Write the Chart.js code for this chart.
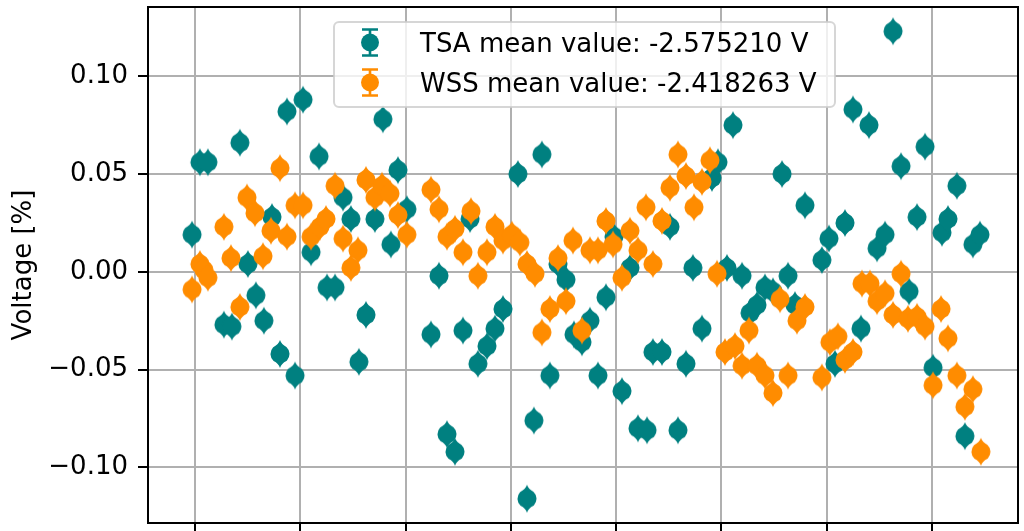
<!DOCTYPE html>
<html>
<head>
<meta charset="utf-8">
<title>TSA / WSS voltage deviation</title>
<script src="https://cdn.jsdelivr.net/npm/chart.js@4.4.1/dist/chart.umd.min.js"></script>
<style>
  html, body { margin: 0; padding: 0; background: #fff; }
  canvas { display: block; }
</style>
</head>
<body>
<canvas id="myChart" width="1024" height="531"></canvas>
<script>
// mean values shown in the legend (V)
var tsaMean = -2.575210;
var wssMean = -2.418263;

// TSA deviation from mean, in %
var tsaX = [-0.28, 0.47, 1.23, 2.75, 3.51, 4.27, 5.03, 5.79, 6.55, 7.31,
  8.07, 8.74, 9.50, 10.26, 11.02, 11.78, 12.54, 13.30, 14.06, 14.81,
  15.57, 16.24, 17.09, 17.85, 18.61, 19.28, 20.13, 22.41, 23.17, 23.93,
  24.69, 25.45, 26.12, 26.87, 27.73, 28.49, 29.25, 30.67, 31.53, 32.19,
  32.95, 33.71, 34.47, 35.23, 35.99, 36.75, 37.51, 38.27, 39.03, 39.79,
  40.55, 41.31, 42.07, 42.93, 43.49, 44.35, 45.11, 45.87, 46.63, 47.29,
  48.15, 49.10, 49.67, 50.52, 51.09, 51.95, 52.71, 53.37, 54.13, 54.89,
  55.75, 56.32, 56.98, 57.93, 59.54, 60.21, 60.78, 61.73, 62.49, 63.25,
  64.01, 64.77, 65.53, 66.29, 67.05, 67.81, 68.57, 69.33, 70.09, 70.94,
  71.51, 72.36, 73.12, 73.88, 74.55];
var tsaY = [0.019, 0.056, 0.056, -0.027, -0.028, 0.066, 0.004, -0.012, -0.025, 0.028,
  -0.042, 0.082, -0.053, 0.088, 0.010, 0.059, -0.008, -0.008, 0.038, 0.027,
  -0.046, -0.022, 0.027, 0.078, 0.014, 0.052, 0.032, -0.032, -0.002, -0.083,
  -0.092, -0.030, 0.027, -0.047, -0.038, -0.029, -0.019, 0.050, -0.116, -0.076,
  0.060, -0.053, 0.004, -0.004, -0.032, -0.036, -0.025, -0.053, -0.013, 0.018,
  -0.061, 0.002, -0.080, -0.081, -0.041, -0.041, 0.023, -0.081, -0.047, 0.002,
  -0.029, 0.048, 0.056, 0.002, 0.075, -0.002, -0.021, -0.017, -0.008, -0.010,
  0.050, -0.002, -0.017, 0.034, 0.006, 0.017, -0.047, 0.025, 0.083, -0.029,
  0.075, 0.012, 0.019, 0.123, 0.054, -0.010, 0.028, 0.064, -0.049, 0.020,
  0.027, 0.044, -0.084, 0.014, 0.019];

// WSS deviation from mean, in %
var wssX = [-0.28, 0.47, 0.85, 1.23, 2.75, 3.42, 4.27, 4.94, 5.70, 6.46,
  7.22, 8.07, 8.74, 9.50, 10.26, 11.02, 11.87, 12.44, 13.30, 14.06,
  14.81, 15.48, 16.24, 17.09, 17.76, 18.52, 19.28, 20.13, 22.41, 23.17,
  23.93, 24.69, 25.45, 26.21, 26.87, 27.73, 28.49, 29.25, 30.10, 30.86,
  31.53, 32.29, 32.95, 33.71, 34.47, 35.23, 35.90, 36.75, 37.51, 38.27,
  39.03, 39.70, 40.55, 41.31, 42.07, 42.83, 43.49, 44.35, 45.11, 45.87,
  46.63, 47.39, 48.15, 48.91, 49.58, 50.33, 51.28, 51.95, 52.61, 53.37,
  54.13, 54.89, 55.56, 56.32, 57.17, 57.93, 59.54, 60.30, 61.06, 61.73,
  62.49, 63.34, 64.10, 64.77, 65.53, 66.29, 67.05, 67.71, 68.57, 69.33,
  70.09, 70.85, 71.51, 72.36, 73.12, 73.88, 74.64];
var wssY = [-0.009, 0.004, 0.001, -0.003, 0.023, 0.007, -0.018, 0.038, 0.030, 0.008,
  0.021, 0.053, 0.018, 0.034, 0.034, 0.018, 0.023, 0.027, 0.044, 0.017,
  0.002, 0.011, 0.047, 0.038, 0.044, 0.040, 0.029, 0.019, 0.042, 0.032,
  0.018, 0.022, 0.010, 0.031, -0.002, 0.010, 0.023, 0.016, 0.019, 0.015,
  0.004, -0.001, -0.031, -0.019, 0.007, -0.015, 0.016, -0.030, 0.011, 0.011,
  0.026, 0.014, -0.003, 0.021, 0.011, 0.033, 0.004, 0.026, 0.043, 0.060,
  0.049, 0.033, 0.046, 0.057, -0.001, -0.041, -0.038, -0.048, -0.030, -0.048,
  -0.053, -0.062, -0.014, -0.053, -0.025, -0.018, -0.054, -0.036, -0.033, -0.045,
  -0.041, -0.006, -0.006, -0.015, -0.011, -0.022, -0.001, -0.024, -0.023, -0.028,
  -0.058, -0.019, -0.034, -0.053, -0.069, -0.060, -0.092];

var xTicks = [0, 10, 20, 30, 40, 50, 60, 70];
var yTicks = [-0.10, -0.05, 0.00, 0.05, 0.10];

var TEAL = '#008080';
var ORANGE = '#ff8c00';
var FONT = 'DejaVu Sans';
var GRID = '#b0b0b0';

// legend frame placement inside the plot
var legendBox = { left: 334, top: 22, width: 501, height: 85, rowGap: 40 };

// circle marker with the error bar tips sticking out above and below
function makeMarker(color) {
  var c = document.createElement('canvas');
  c.width = 22;
  c.height = 32;
  var g = c.getContext('2d');
  var r = 9.5, a = Math.atan2(7, 6.4);
  g.translate(11, 16);
  g.fillStyle = color;
  g.beginPath();
  g.moveTo(0, -14);
  g.quadraticCurveTo(1.5, -9.5, r * Math.cos(a), -r * Math.sin(a));
  g.arc(0, 0, r, -a, a);
  g.quadraticCurveTo(1.5, 9.5, 0, 14);
  g.quadraticCurveTo(-1.5, 9.5, -r * Math.cos(a), r * Math.sin(a));
  g.arc(0, 0, r, Math.PI - a, Math.PI + a);
  g.quadraticCurveTo(-1.5, -9.5, 0, -14);
  g.closePath();
  g.fill();
  return c;
}

function points(xs, ys) {
  return xs.map(function (x, i) { return { x: x, y: ys[i] }; });
}

function minusSign(v) {
  return v.toFixed(2).replace('-', '\u2212');
}

// full black box round the plot area
var frame = {
  id: 'frame',
  afterDatasetsDraw: function (chart) {
    var a = chart.chartArea, ctx = chart.ctx;
    ctx.save();
    ctx.strokeStyle = '#000';
    ctx.lineWidth = 2;
    ctx.strokeRect(a.left, a.top, a.right - a.left, a.bottom - a.top);
    ctx.restore();
  }
};

// errorbar-style legend drawn inside the axes
var boxLegend = {
  id: 'boxLegend',
  afterDraw: function (chart) {
    var ctx = chart.ctx, b = legendBox, rad = 5;
    var x0 = b.left, y0 = b.top, x1 = b.left + b.width, y1 = b.top + b.height;
    ctx.save();
    ctx.beginPath();
    ctx.moveTo(x0 + rad, y0);
    ctx.arcTo(x1, y0, x1, y1, rad);
    ctx.arcTo(x1, y1, x0, y1, rad);
    ctx.arcTo(x0, y1, x0, y0, rad);
    ctx.arcTo(x0, y0, x1, y0, rad);
    ctx.closePath();
    ctx.fillStyle = 'rgba(255,255,255,0.8)';
    ctx.fill();
    ctx.strokeStyle = 'rgba(204,204,204,0.8)';
    ctx.lineWidth = 2;
    ctx.stroke();

    chart.data.datasets.forEach(function (ds, i) {
      var cy = b.top + 20.5 + i * b.rowGap, cx = b.left + 36;
      ctx.strokeStyle = ds.backgroundColor;
      ctx.fillStyle = ds.backgroundColor;
      ctx.lineWidth = 2.6;
      ctx.beginPath();
      ctx.moveTo(cx, cy - 13); ctx.lineTo(cx, cy + 13);
      ctx.moveTo(cx - 8, cy - 13); ctx.lineTo(cx + 8, cy - 13);
      ctx.moveTo(cx - 8, cy + 13); ctx.lineTo(cx + 8, cy + 13);
      ctx.stroke();
      ctx.beginPath();
      ctx.arc(cx, cy, 9, 0, Math.PI * 2);
      ctx.fill();

      ctx.fillStyle = '#000';
      ctx.font = '26px "' + FONT + '"';
      ctx.textAlign = 'left';
      ctx.textBaseline = 'alphabetic';
      ctx.fillText(ds.label, b.left + 86, cy + 9.7);
    });
    ctx.restore();
  }
};

Chart.defaults.font.family = FONT;
Chart.defaults.color = '#000';

var ctx = document.getElementById('myChart');

var myChart = new Chart(ctx, {
  type: 'scatter',
  data: {
    datasets: [
      {
        label: 'TSA mean value: ' + tsaMean.toFixed(6) + ' V',
        data: points(tsaX, tsaY),
        backgroundColor: TEAL,
        pointStyle: makeMarker(TEAL),
        pointRadius: 10,
        order: 2
      },
      {
        label: 'WSS mean value: ' + wssMean.toFixed(6) + ' V',
        data: points(wssX, wssY),
        backgroundColor: ORANGE,
        pointStyle: makeMarker(ORANGE),
        pointRadius: 10,
        order: 1
      }
    ]
  },
  options: {
    responsive: false,
    animation: false,
    devicePixelRatio: 1,
    events: [],
    layout: { autoPadding: false, padding: { left: 0, right: 6, top: 7, bottom: 0 } },
    plugins: {
      legend: { display: false },
      tooltip: { enabled: false }
    },
    scales: {
      x: {
        type: 'linear',
        min: -4.46,
        max: 78.16,
        afterBuildTicks: function (scale) {
          scale.ticks = xTicks.map(function (v) { return { value: v }; });
        },
        afterFit: function (scale) { scale.height = 8; },
        ticks: { display: false },
        grid: { color: GRID, lineWidth: 2, tickColor: '#000', tickLength: 8, tickWidth: 2 },
        border: { display: true, color: '#000', width: 2 }
      },
      y: {
        type: 'linear',
        min: -0.1284,
        max: 0.1354,
        afterBuildTicks: function (scale) {
          scale.ticks = yTicks.map(function (v) { return { value: v }; });
        },
        // fixed axis width, and no extra room reserved for end labels
        afterFit: function (scale) {
          scale.width = 148;
          scale.paddingTop = 0;
          scale.paddingBottom = 0;
        },
        ticks: {
          padding: 10,
          color: '#000',
          font: { size: 26 },
          callback: function (v) { return minusSign(v); }
        },
        grid: { color: GRID, lineWidth: 2, tickColor: '#000', tickLength: 10, tickWidth: 2 },
        border: { display: true, color: '#000', width: 2 },
        title: {
          display: true,
          text: 'Voltage [%]',
          color: '#000',
          font: { size: 26 },
          padding: { top: 9, bottom: 0 }
        }
      }
    }
  },
  plugins: [frame, boxLegend]
});
</script>
</body>
</html>
